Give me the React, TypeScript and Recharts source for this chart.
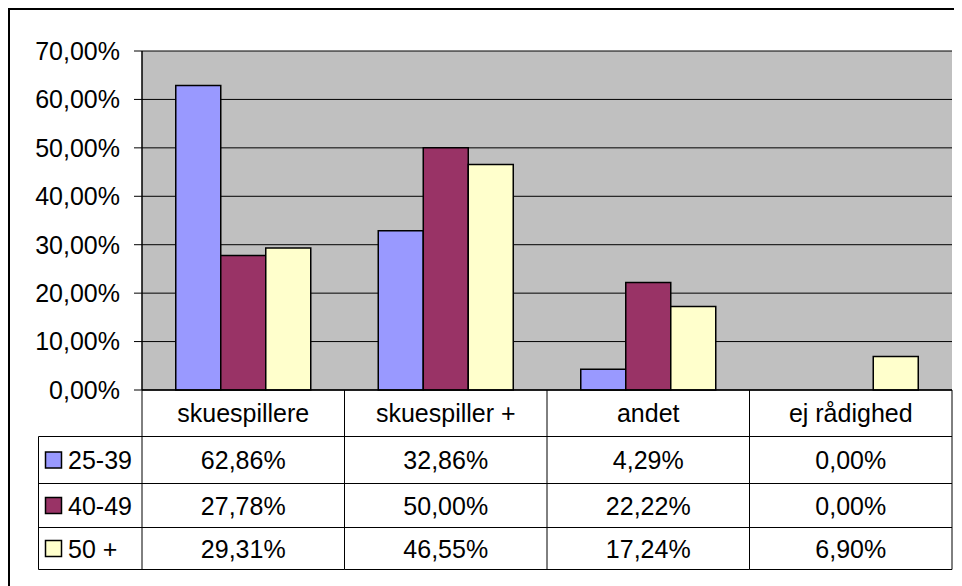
import React from 'react';
import { BarChart, Bar, XAxis, YAxis, CartesianGrid, Legend } from 'recharts';

const categories = ['skuespillere', 'skuespiller +', 'andet', 'ej rådighed'];
const series2539 = [0.6286, 0.3286, 0.0429, 0.0];
const series4049 = [0.2778, 0.5, 0.2222, 0.0];
const series50 = [0.2931, 0.4655, 0.1724, 0.069];
const seriesNames = ['25-39', '40-49', '50 +'];
const seriesKeys = ['a', 'b', 'c'];
const seriesColors = ['#9999FF', '#993366', '#FFFFCC'];
const yTicks = [0, 0.1, 0.2, 0.3, 0.4, 0.5, 0.6, 0.7];

const seriesValues = [series2539, series4049, series50];
const data = categories.map((cat, i) => ({
  cat,
  a: series2539[i],
  b: series4049[i],
  c: series50[i],
}));

const FONT = '"Liberation Sans", Arial, sans-serif';
const FS = 25;
const CHART_W = 952;
const CHART_H = 576;
const M_TOP = 41;
const M_RIGHT = 10;
const Y_W = 132;
const X_H = 196;
const PLOT_L = Y_W;
const PLOT_R = CHART_W - M_RIGHT;
const PLOT_B = CHART_H - X_H;
const BAND = (PLOT_R - PLOT_L) / categories.length;
const ROWS = [PLOT_B, 426.5, 473.5, 517.5, 559.5];
const LEG_L = 28.5;

const pct = (v: number) => (v * 100).toFixed(2).replace('.', ',') + '%';
const rowMid = (r: number) => (ROWS[r] + ROWS[r + 1]) / 2;

function TableColumn(props: any) {
  const { payload } = props;
  const cx = payload.coordinate;
  const i = payload.index;
  const left = cx - BAND / 2;
  const right = cx + BAND / 2;
  return (
    <g>
      <line x1={left} x2={left} y1={ROWS[0]} y2={ROWS[4]} stroke="#000" strokeWidth={1} />
      {i === categories.length - 1 && (
        <line x1={right} x2={right} y1={ROWS[0]} y2={ROWS[4]} stroke="#000" strokeWidth={1} />
      )}
      {ROWS.slice(1).map((y, k) => (
        <line key={k} x1={left} x2={right} y1={y} y2={y} stroke="#000" strokeWidth={1} />
      ))}
      <text x={cx} y={rowMid(0)} textAnchor="middle" dominantBaseline="central" fontFamily={FONT} fontSize={FS} fill="#000">
        {payload.value}
      </text>
      {seriesValues.map((arr, r) => (
        <text key={r} x={cx} y={rowMid(r + 1)} textAnchor="middle" dominantBaseline="central" fontFamily={FONT} fontSize={FS} fill="#000">
          {pct(arr[i])}
        </text>
      ))}
    </g>
  );
}

function LegendColumn(props: any) {
  const payload = props.payload || [];
  return (
    <svg
      width={PLOT_L + 1}
      height={CHART_H}
      style={{ position: 'absolute', left: 0, top: 0, overflow: 'visible', pointerEvents: 'none' }}
    >
      <line x1={LEG_L} x2={LEG_L} y1={ROWS[1]} y2={ROWS[4]} stroke="#000" strokeWidth={1} />
      {ROWS.slice(1).map((y, k) => (
        <line key={k} x1={LEG_L} x2={PLOT_L} y1={y} y2={y} stroke="#000" strokeWidth={1} />
      ))}
      {payload.map((p: any, r: number) => {
        const cy = rowMid(r + 1);
        return (
          <g key={r}>
            <rect x={35.5} y={cy - 8} width={16} height={16} fill={p.color} stroke="#000" strokeWidth={1.5} />
            <text x={58} y={cy} dominantBaseline="central" fontFamily={FONT} fontSize={FS} fill="#000">
              {p.value}
            </text>
          </g>
        );
      })}
    </svg>
  );
}

export default function App() {
  return (
    <div
      style={{
        width: 954,
        height: 578,
        boxSizing: 'border-box',
        borderTop: '2px solid #000',
        borderLeft: '2px solid #000',
        background: '#fff',
        fontFamily: FONT,
      }}
    >
      <BarChart
        width={CHART_W}
        height={CHART_H}
        data={data}
        margin={{ top: M_TOP, right: M_RIGHT, bottom: 0, left: 0 }}
        barCategoryGap="16.67%"
        barGap={0}
      >
        <CartesianGrid
          xAxisId="main"
          yAxisId="left"
          vertical={false}
          stroke="#000"
          strokeWidth={1}
          fill="#C0C0C0"
          fillOpacity={1}
        />
        <XAxis
          xAxisId="main"
          dataKey="cat"
          height={X_H}
          interval={0}
          tickLine={false}
          axisLine={{ stroke: '#000', strokeWidth: 1.5 }}
          tick={(p: any) => <TableColumn {...p} />}
        />
        <XAxis xAxisId="top" dataKey="cat" orientation="top" height={0} tick={false} tickLine={false} axisLine={{ stroke: '#808080', strokeWidth: 2 }} />
        <YAxis
          yAxisId="left"
          domain={[0, 0.7]}
          ticks={yTicks}
          interval={0}
          width={Y_W}
          tickSize={8}
          tickMargin={14}
          tickFormatter={(v: number) => pct(v)}
          tick={{ fontFamily: FONT, fontSize: FS, fill: '#000' }}
          tickLine={{ stroke: '#000' }}
          axisLine={{ stroke: '#000', strokeWidth: 1.5 }}
        />
        <YAxis
          yAxisId="right"
          orientation="right"
          domain={[0, 0.7]}
          width={0}
          tick={false}
          tickLine={false}
          axisLine={{ stroke: '#808080', strokeWidth: 2 }}
        />
        <Legend
          content={(p: any) => <LegendColumn {...p} />}
          wrapperStyle={{ position: 'absolute', left: 0, top: 0, width: 0, height: 0, overflow: 'visible' }}
        />
        {seriesKeys.map((k, i) => (
          <Bar
            key={k}
            xAxisId="main"
            yAxisId="left"
            dataKey={k}
            name={seriesNames[i]}
            fill={seriesColors[i]}
            stroke="#000"
            strokeWidth={1.5}
            isAnimationActive={false}
          />
        ))}
      </BarChart>
    </div>
  );
}
